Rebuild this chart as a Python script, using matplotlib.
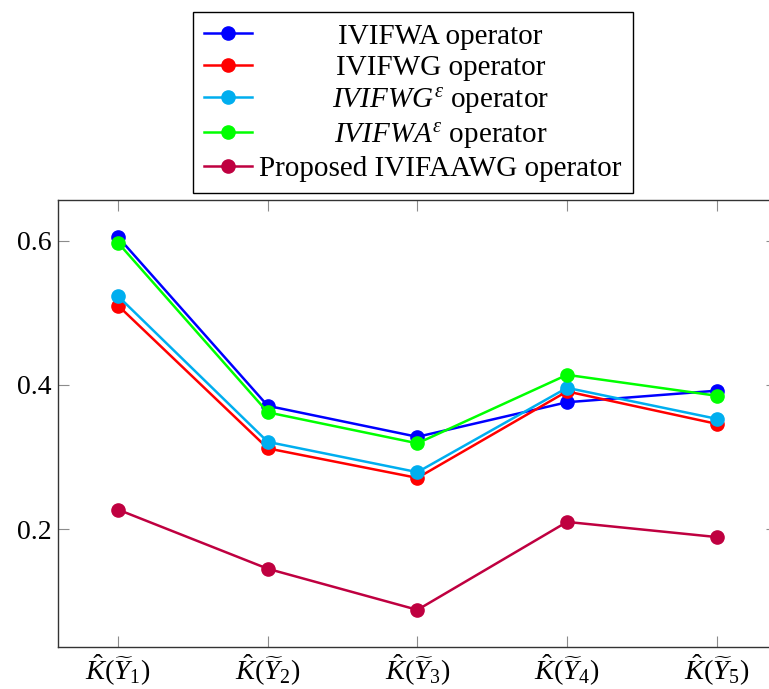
import matplotlib
matplotlib.use("Agg")
import matplotlib.pyplot as plt
from matplotlib.offsetbox import DrawingArea

plt.rcParams["font.family"] = ["Liberation Serif", "DejaVu Serif"]
plt.rcParams["mathtext.fontset"] = "custom"
plt.rcParams["mathtext.rm"] = "Liberation Serif"
plt.rcParams["mathtext.it"] = "Liberation Serif:italic"
plt.rcParams["mathtext.bf"] = "Liberation Serif:bold"

# Score of each alternative under the different aggregation operators
alternatives = [1, 2, 3, 4, 5]
tick_labels = [r"$\hat{K}(\widetilde{Y}_{%d})$" % i for i in alternatives]

ivifwa = [0.605, 0.371, 0.328, 0.376, 0.392]
ivifwg = [0.510, 0.312, 0.271, 0.391, 0.346]
ivifwg_eps = [0.523, 0.321, 0.279, 0.396, 0.353]
ivifwa_eps = [0.597, 0.362, 0.319, 0.414, 0.385]
ivifaawg = [0.227, 0.145, 0.088, 0.210, 0.189]

series = [
    (ivifwa, "#0000FF", "IVIFWA operator"),
    (ivifwg, "#FF0000", "IVIFWG operator"),
    (ivifwg_eps, "#00AEEF", r"$IVIFWG^{\varepsilon}$ operator"),
    (ivifwa_eps, "#00FF00", r"$IVIFWA^{\varepsilon}$ operator"),
    (ivifaawg, "#BF0040", "Proposed IVIFAAWG operator"),
]

W, H = 769, 689
fig = plt.figure(figsize=(W / 100, H / 100), dpi=100)
ax = fig.add_axes([58.3 / W, 1 - 647 / H, (776.5 - 58.3) / W, (647 - 200) / H])

for values, color, label in series:
    ax.plot(alternatives, values, color=color, lw=1.8, marker="o",
            markersize=9.5, label=label)

ax.set_xlim(0.6, 5.4)
ax.set_ylim(0.0365, 0.6565)
ax.set_xticks(alternatives)
ax.set_xticklabels(tick_labels, fontsize=20.5)
ax.set_yticks([0.2, 0.4, 0.6])
ax.set_yticklabels(["0.2", "0.4", "0.6"], fontsize=20)
ax.tick_params(direction="in", length=8, width=0.8, color="#8c8c8c",
               top=True, right=True)
ax.tick_params(axis="x", pad=4)
ax.tick_params(axis="y", pad=5)
for sp in ax.spines.values():
    sp.set_color("#333333")
    sp.set_linewidth(1.0)

leg = fig.legend(loc="upper center", bbox_to_anchor=(413 / W, 1 - 12 / H),
                 fontsize=21, frameon=True, fancybox=False, edgecolor="black",
                 framealpha=1, handlelength=1.65, handletextpad=0.0,
                 labelspacing=0.17, borderpad=0.38, borderaxespad=0)
leg.get_frame().set_linewidth(1.0)

# Centre each legend label within the column
renderer = fig.canvas.get_renderer()
texts = leg.get_texts()
widths = [t.get_window_extent(renderer).width for t in texts]
maxw = max(widths)
gap_pts = 5.0
column = leg._legend_handle_box.get_children()[0]
for row, w in zip(column.get_children(), widths):
    h, t = row.get_children()
    pad_pts = (maxw - w) / 2 * 72 / fig.dpi
    row.sep = 0
    row._children = [h, DrawingArea(gap_pts + pad_pts, 0), t,
                     DrawingArea(pad_pts, 0)]

fig.savefig("out.png", dpi=100)
